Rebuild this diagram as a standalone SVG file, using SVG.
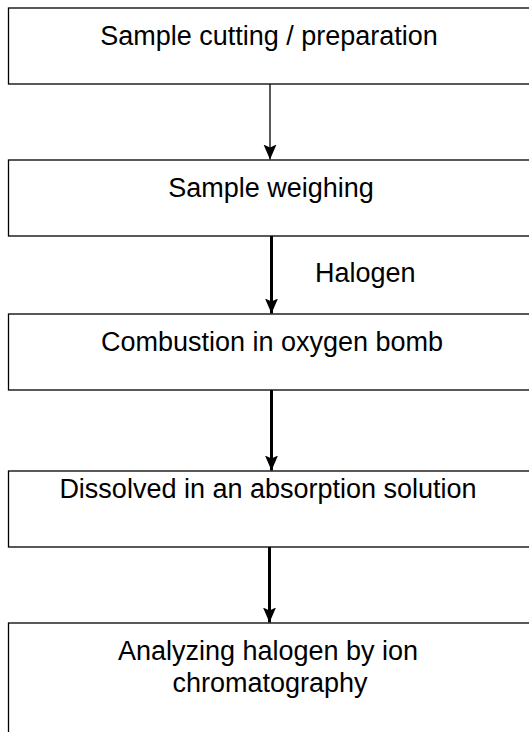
<svg xmlns="http://www.w3.org/2000/svg" width="529" height="732" viewBox="0 0 529 732">
<style>
.box{fill:#fff;stroke:#000;stroke-width:1.3}
.t{font-family:"Liberation Sans",Arial,sans-serif;font-size:27px;fill:#000;text-anchor:middle}
.c{stroke:#000;fill:none}
</style>
<defs>
<marker id="ah" markerUnits="userSpaceOnUse" markerWidth="16" markerHeight="14" refX="15" refY="7" orient="auto">
<path d="M0,0.5 L15,7 L0,13.5 L3,7 z" fill="#000"/>
</marker>
</defs>
<rect width="529" height="732" fill="#fff"/>
<g id="n1"><rect class="box" x="8.5" y="8" width="540" height="76"/><text class="t" x="269" y="45">Sample cutting / preparation</text></g>
<g id="n2"><rect class="box" x="8.5" y="160" width="540" height="76"/><text class="t" x="271" y="197">Sample weighing</text></g>
<g id="n3"><rect class="box" x="8.5" y="314" width="540" height="76"/><text class="t" x="272" y="351">Combustion in oxygen bomb</text></g>
<g id="n4"><rect class="box" x="8.5" y="471" width="540" height="76"/><text class="t" x="268" y="498">Dissolved in an absorption solution</text></g>
<g id="n5"><rect class="box" x="8.5" y="623" width="540" height="130"/><text class="t" x="268" y="660">Analyzing halogen by ion</text><text class="t" x="270" y="692">chromatography</text></g>
<g id="connectors">
<line class="c" x1="270" y1="84" x2="270" y2="159.5" stroke-width="1.3" marker-end="url(#ah)"/>
<line class="c" x1="271.5" y1="236" x2="271.5" y2="313.5" stroke-width="3" marker-end="url(#ah)"/>
<text x="315" y="282" style="font-family:'Liberation Sans',Arial,sans-serif;font-size:27px;fill:#000">Halogen</text>
<line class="c" x1="271.5" y1="390" x2="271.5" y2="470.5" stroke-width="3" marker-end="url(#ah)"/>
<line class="c" x1="269.5" y1="547" x2="269.5" y2="622.5" stroke-width="3" marker-end="url(#ah)"/>
</g>
</svg>
